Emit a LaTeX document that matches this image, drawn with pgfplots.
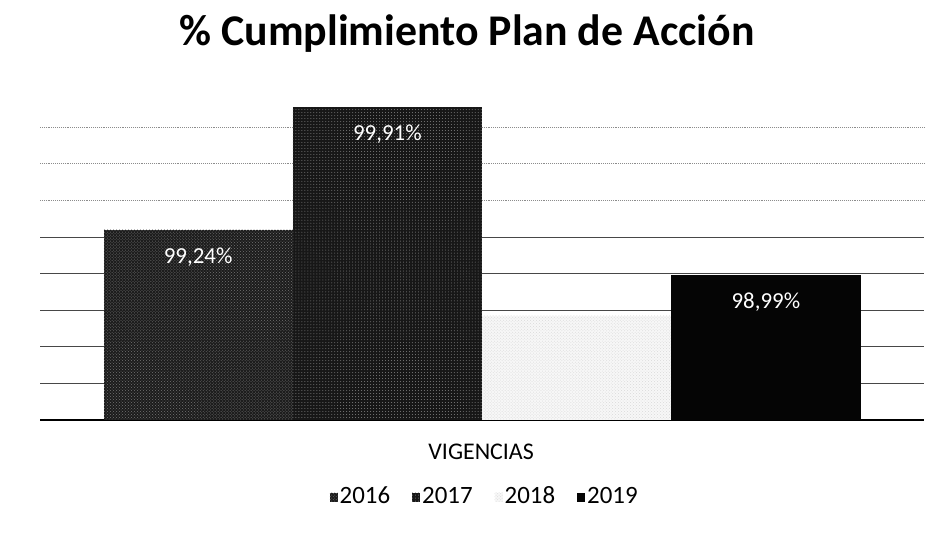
\documentclass[border=0pt]{standalone}
\usepackage{pgfplots}
\pgfplotsset{compat=1.18}
\usepackage{fontspec}
\setmainfont{Carlito}
\usetikzlibrary{patterns}
\definecolor{c2016}{HTML}{1C1C1C}
\definecolor{c2017}{HTML}{171717}
\definecolor{c2018}{HTML}{F7F7F7}
\definecolor{c2019}{HTML}{050505}
\begin{document}
\begin{tikzpicture}
\useasboundingbox (0,0) rectangle (936bp,540bp);
\node[font=\bfseries\fontsize{44}{50}\selectfont, anchor=base] at (467bp,494bp) {\% Cumplimiento Plan de Acción};
\begin{axis}[
  at={(40bp,120bp)}, anchor=south west,
  scale only axis, width=884bp, height=329.4bp,
  ybar=0pt, bar width=189.25bp,
  xmin=-1, xmax=1, ymin=98.2, ymax=100,
  xtick=\empty, ytick={98.4,98.6,98.8,99.0,99.2},
  extra y ticks={99.4,99.6,99.8},
  extra y tick style={grid style={black!45, line width=0.9bp, densely dotted}},
  yticklabels={}, extra y tick labels={},
  major tick length=0pt,
  ymajorgrids, grid style={black!72, line width=0.9bp},
  axis x line*=bottom,
  axis y line*=left,
  y axis line style={draw=none},
  x axis line style={line width=2.5bp, black, -},
  xlabel={VIGENCIAS},
  every axis x label/.style={at={(axis description cs:0.499,0)}, anchor=center, yshift=-32bp, font=\fontsize{24}{27}\selectfont},
  point meta=explicit symbolic,
  every node near coord/.append style={anchor=center, yshift=-27bp, text=white, font=\fontsize{23}{26}\selectfont},
  legend columns=4,
  legend style={at={(axis description cs:0.503,-0.234)}, anchor=center, draw=none, fill=none,
    font=\fontsize{25}{28}\selectfont,
    /tikz/every even column/.append style={column sep=20bp},
    nodes={inner sep=2bp, text height=13bp, text depth=1bp}},
  legend image code/.code={\fill[#1] (0bp,-4.5bp) rectangle (8bp,4.5bp);},
]
\addplot[fill=c2016, draw=none, nodes near coords, postaction={pattern=crosshatch dots, pattern color=black!55}] coordinates {(0,99.24)[99,24\%]};
\addplot[fill=c2017, draw=none, nodes near coords, postaction={pattern=dots, pattern color=black!50}] coordinates {(0,99.91)[99,91\%]};
\addplot[fill=c2018, draw=none, postaction={pattern=crosshatch dots, pattern color=black!15}] coordinates {(0,98.77)[]};
\addplot[fill=c2019, draw=none, nodes near coords] coordinates {(0,98.99)[98,99\%]};
\legend{2016,2017,2018,2019}
\end{axis}
\end{tikzpicture}
\end{document}
